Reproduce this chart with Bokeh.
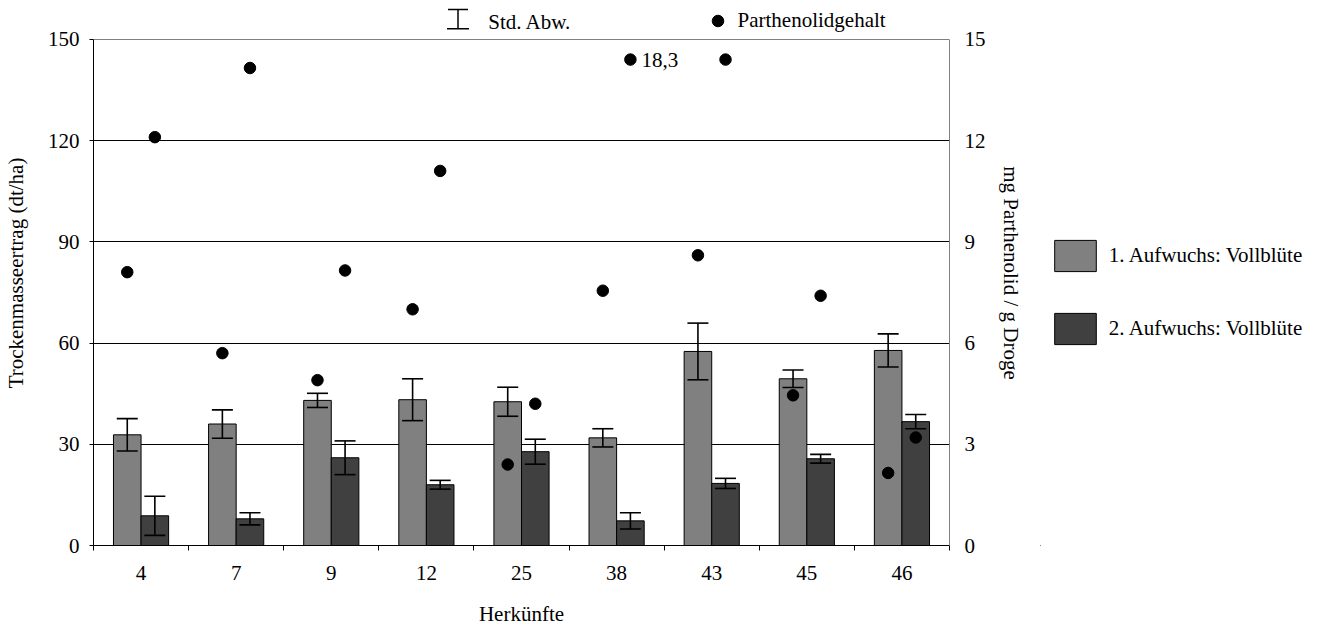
import numpy as np
from bokeh.plotting import figure
from bokeh.layouts import row
from bokeh.models import (ColumnDataSource, Range1d, LinearAxis, FixedTicker, Whisker, TeeHead,
                          Legend, LegendItem, Label, Grid)
from bokeh.core.properties import value
from bokeh.embed import file_html
from bokeh.resources import INLINE

# ---------------- data ----------------
herkuenfte = ["4", "7", "9", "12", "25", "38", "43", "45", "46"]
ertrag_1 = [32.8, 36.0, 43.0, 43.2, 42.6, 31.9, 57.5, 49.4, 57.8]      # 1. Aufwuchs (dt/ha)
std_1 = [4.8, 4.2, 2.1, 6.2, 4.3, 2.7, 8.4, 2.6, 4.9]
ertrag_2 = [8.8, 7.9, 26.0, 18.0, 27.8, 7.3, 18.4, 25.7, 36.7]         # 2. Aufwuchs (dt/ha)
std_2 = [5.8, 1.8, 5.0, 1.3, 3.7, 2.4, 1.5, 1.3, 2.1]
parthenolid_1 = [8.1, 5.7, 4.9, 7.0, 2.4, 7.55, 8.6, 4.45, 2.15]      # mg / g Droge
parthenolid_2 = [12.1, 14.15, 8.15, 11.1, 4.2, 18.3, 14.6, 7.4, 3.2]
left_ticks = [0, 30, 60, 90, 120, 150]
right_ticks = [0, 3, 6, 9, 12, 15]
series_names = ["1. Aufwuchs: Vollblüte", "2. Aufwuchs: Vollblüte"]
series_colors = ["#808080", "#404040"]
OFFSCALE_Y = 14.4   # height at which an off-scale Parthenolid value is drawn (value is written beside it)

FONT = "Liberation Serif"
FS = "21px"

# the frame reaches up to the top of the canvas so the key above the plot area is not clipped;
# the axes themselves are bounded to 0..150 / 0..15
Y_TOP = 161.5
RIGHT_SCALE = right_ticks[-1] / left_ticks[-1]

n = len(herkuenfte)
xc = np.arange(n) + 0.5
BAR_W = 0.29
x1 = xc - BAR_W / 2
x2 = xc + BAR_W / 2

src = ColumnDataSource(dict(
    x1=x1, x2=x2, e1=ertrag_1, e2=ertrag_2,
    up1=np.array(ertrag_1) + np.array(std_1), lo1=np.array(ertrag_1) - np.array(std_1),
    up2=np.array(ertrag_2) + np.array(std_2), lo2=np.array(ertrag_2) - np.array(std_2),
))

p2 = np.array(parthenolid_2, dtype=float)
p2_plot = np.minimum(p2, OFFSCALE_Y)
dots_src = ColumnDataSource(dict(
    x=np.concatenate([x1, x2]),
    y=np.concatenate([np.array(parthenolid_1, dtype=float), p2_plot]),
))
off = p2 > right_ticks[-1]
off_src = ColumnDataSource(dict(
    x=x2[off], y=p2_plot[off],
    t=[f"{v:.1f}".replace(".", ",") for v in p2[off]],
))

p = figure(width=1040, height=628, x_range=Range1d(0, n), y_range=Range1d(0, Y_TOP),
           output_backend="svg", toolbar_location=None,
           min_border_left=93, min_border_right=91, min_border_top=0, min_border_bottom=82)
p.extra_y_ranges = {"parth": Range1d(0, Y_TOP * RIGHT_SCALE)}
p.background_fill_color = "white"
p.border_fill_color = "white"
p.outline_line_color = None

# x axis: labels at category centres, tick marks at boundaries
xa = p.xaxis[0]
xa.ticker = FixedTicker(ticks=list(xc), minor_ticks=list(range(n + 1)))
xa.major_label_overrides = {float(x): lab for x, lab in zip(xc, herkuenfte)}
xa.major_tick_line_color = None
xa.major_tick_out = 0
xa.major_tick_in = 0
xa.minor_tick_line_color = "black"
xa.minor_tick_out = 5
xa.minor_tick_in = 0
xa.major_label_standoff = 15
xa.axis_label = "Herkünfte"
xa.axis_label_standoff = 19
xa.axis_line_color = "black"

ya = p.yaxis[0]
ya.ticker = FixedTicker(ticks=left_ticks)
ya.bounds = (left_ticks[0], left_ticks[-1])
ya.minor_tick_line_color = None
ya.major_tick_out = 4
ya.major_tick_in = 0
ya.major_label_standoff = 10
ya.axis_label = "Trockenmasseertrag (dt/ha)"
ya.axis_label_standoff = 17
ya.axis_line_color = "black"

ra = LinearAxis(y_range_name="parth", ticker=FixedTicker(ticks=right_ticks),
                bounds=(right_ticks[0], right_ticks[-1]),
                axis_line_color="#808080", major_tick_line_color=None,
                major_tick_out=0, major_tick_in=0, minor_tick_line_color=None,
                major_label_standoff=15, axis_label="mg Parthenolid / g Droge",
                axis_label_standoff=10)
p.add_layout(ra, "right")

for ax in (xa, ya, ra):
    ax.major_label_text_font = FONT
    ax.major_label_text_font_size = FS
    ax.major_label_text_color = "black"
    ax.axis_label_text_font = FONT
    ax.axis_label_text_font_size = FS
    ax.axis_label_text_font_style = "normal"
    ax.axis_label_text_color = "black"

p.xgrid.visible = False
p.ygrid.ticker = FixedTicker(ticks=left_ticks[1:-1])
p.ygrid.grid_line_color = "black"
p.ygrid.grid_line_width = 1
# top border of the plot area
p.add_layout(Grid(dimension=1, ticker=FixedTicker(ticks=[left_ticks[-1]]),
                  grid_line_color="#808080", grid_line_width=1))

# bars
b1 = p.vbar(x="x1", top="e1", bottom=0, width=BAR_W, source=src,
            fill_color=series_colors[0], line_color="black", line_width=1)
b2 = p.vbar(x="x2", top="e2", bottom=0, width=BAR_W, source=src,
            fill_color=series_colors[1], line_color="black", line_width=1)

# error bars
for b, u, l in (("x1", "up1", "lo1"), ("x2", "up2", "lo2")):
    w = Whisker(base=b, upper=u, lower=l, source=src, level="glyph",
                line_color="black", line_width=1.6,
                upper_head=TeeHead(size=21, line_color="black", line_width=1.6),
                lower_head=TeeHead(size=21, line_color="black", line_width=1.6))
    p.add_layout(w)

# Parthenolid dots
dots = p.scatter(x="x", y="y", source=dots_src, y_range_name="parth", size=11.5,
                 fill_color="black", line_color="black", marker="circle")
p.text(x="x", y="y", text="t", source=off_src, y_range_name="parth",
       x_offset=11, text_align="left", text_baseline="middle",
       text_font=value(FONT), text_font_size=value(FS), text_color="black")

# key above the plot area: Std. Abw. symbol + text, Parthenolidgehalt
sym_src = ColumnDataSource(dict(b=[364.5], lo=[516.7], up=[536.0]))
sym = Whisker(base="b", lower="lo", upper="up", source=sym_src,
              base_units="screen", lower_units="screen", upper_units="screen",
              line_color="black", line_width=1.5,
              upper_head=TeeHead(size=20, line_color="black", line_width=1.5),
              lower_head=TeeHead(size=22, line_color="black", line_width=1.5))
p.add_layout(sym)
p.add_layout(Label(x=394.7, y=523.5, x_units="screen", y_units="screen", text="Std. Abw.",
                   text_font=FONT, text_font_size=FS, text_color="black",
                   text_baseline="middle", text_align="left"))

leg_top = Legend(items=[LegendItem(label="Parthenolidgehalt", renderers=[dots])],
                 location=(609.5, 510), orientation="horizontal",
                 glyph_width=29, glyph_height=29, label_standoff=6, padding=0, margin=0,
                 spacing=0, border_line_color=None, background_fill_alpha=0,
                 label_text_font=FONT, label_text_font_size=FS, label_text_color="black")
p.add_layout(leg_top)

# key for the bar series, in its own panel to the right of the chart
# (each key renderer holds one bar far outside the panel's ranges: it only supplies the swatch)
k = figure(width=293, height=628, x_range=Range1d(0, 1), y_range=Range1d(0, 1),
           output_backend="svg", toolbar_location=None, min_border=0,
           x_axis_type=None, y_axis_type=None)
k.outline_line_color = None
k.background_fill_color = "white"
k.border_fill_color = "white"
key_items = []
for name, col in zip(series_names, series_colors):
    ks = ColumnDataSource(dict(x=[-5.0], top=[-5.0], bottom=[-6.0]))
    r = k.vbar(x="x", top="top", bottom="bottom", width=BAR_W, source=ks,
               fill_color=col, line_color="black", line_width=1)
    key_items.append(LegendItem(label=name, renderers=[r]))
leg_right = Legend(items=key_items, location=(8.8, 197), orientation="vertical",
                   glyph_width=52, glyph_height=39, label_standoff=8, padding=0, margin=0,
                   spacing=34, border_line_color=None, background_fill_alpha=0,
                   label_text_font=FONT, label_text_font_size=FS, label_text_color="black")
k.add_layout(leg_right)

layout = row(p, k)
open("out.html", "w").write(file_html(layout, INLINE))
